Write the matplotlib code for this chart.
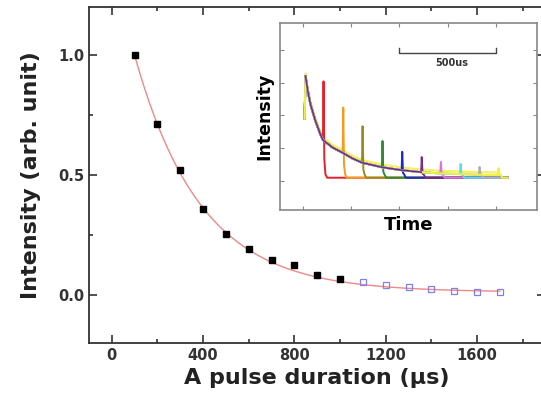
import numpy as np
import matplotlib
matplotlib.use("Agg")
import matplotlib.pyplot as plt

# main data: pulse duration (us) vs normalised intensity
dur_meas = [100, 200, 300, 400, 500, 600, 700, 800, 900, 1000]
int_meas = [1.0, 0.713, 0.519, 0.360, 0.253, 0.191, 0.144, 0.125, 0.083, 0.066]
dur_ext = [1100, 1200, 1300, 1400, 1500, 1600, 1700]
int_ext = [0.056, 0.043, 0.032, 0.024, 0.018, 0.014, 0.011]

# exponential fit parameters
fit_y0, fit_A, fit_tau, fit_x0 = 0.012, 0.988, 290.0, 100.0

# inset: afterglow decay shared by all traces (time in us, arb. intensity)
decay_t = [15, 25, 40, 65, 90, 105, 155, 207, 257, 307, 410, 512, 613, 712, 814, 912, 1010]
decay_y = [3.2, 2.8, 2.35, 1.85, 1.45, 1.25, 1.02, 0.86, 0.69, 0.56, 0.42, 0.33, 0.27, 0.23, 0.21, 0.19, 0.18]
# index into decay_t where the A pulse hits, and the spike height
pulse_idx = [5, 7, 9, 10, 11, 12, 13, 14, 15, 16]
pulse_peak = [3.04, 2.24, 1.67, 1.22, 0.89, 0.73, 0.58, 0.52, 0.43, 0.39]
trace_colors = ['#e8202a', '#f39c1e', '#9a8a20', '#2e8b2e', '#1a2ad0',
                '#7a2a8a', '#e070e0', '#50e0f0', '#b0b0b0', '#f0f040']
start_t, start_y = 10, 1.9
base_y = 0.1
end_t = 1060

fig = plt.figure(figsize=(5.41, 4.07), dpi=100)
ax = fig.add_axes([0.1643, 0.1572, 0.844, 0.8256])

xs = np.linspace(100, 1700, 300)
ax.plot(xs, fit_y0 + fit_A * np.exp(-(xs - fit_x0) / fit_tau), color='#f08888', lw=1.0, zorder=1)
ax.plot(dur_meas, int_meas, 's', color='black', ms=5.0, zorder=3)
ax.plot(dur_ext, int_ext, 's', mfc='none', mec='#8080e8', mew=0.9, ms=5.0, zorder=3)

ax.set_xlim(-100, 1900)
ax.set_ylim(-0.2, 1.2)
ax.set_xticks([0, 400, 800, 1200, 1600])
ax.set_xticks(range(200, 1900, 400), minor=True)
ax.set_yticks([0.0, 0.5, 1.0])
ax.set_yticks([0.25, 0.75], minor=True)
ax.set_yticklabels(['0.0', '0.5', '1.0'])
ax.tick_params(which='both', direction='in', top=True, right=True, colors='#333333',
               labelcolor='#333333', labelsize=10.5, width=1.2)
ax.tick_params(which='major', length=6)
ax.tick_params(which='minor', length=3)
for lbl in ax.get_xticklabels() + ax.get_yticklabels():
    lbl.set_fontweight('bold')
for sp in ax.spines.values():
    sp.set_linewidth(1.3)
    sp.set_color('#333333')
ax.set_xlabel('A pulse duration (\u03bcs)', fontsize=16, fontweight='bold', color='#222222', labelpad=4)
ax.set_ylabel('Intensity (arb. unit)', fontsize=16, fontweight='bold', color='#222222', labelpad=12)

# inset
ins = fig.add_axes([0.5176, 0.484, 0.475, 0.4595])
ins.set_xlim(-117, 1212)
ins.set_ylim(-0.885, 4.82)
ins.set_xticks([0, 250, 500, 750, 1000])
ins.set_yticks([0, 1, 2, 3, 4])
ins.tick_params(direction='in', top=True, right=True, length=3, width=0.8,
                colors='#888888', labelbottom=False, labelleft=False)
for sp in ins.spines.values():
    sp.set_linewidth(1.2)
    sp.set_color('#888888')

# each trace: decay until its A pulse, spike, then quench to baseline
for k, (i, pk, c) in enumerate(zip(pulse_idx, pulse_peak, trace_colors)):
    tp = decay_t[i]
    t = [start_t] + decay_t[:i + 1] + [tp + 3, tp + 7, tp + 13, tp + 22, end_t]
    y = [start_y] + decay_y[:i + 1] + [pk, 0.45 * decay_y[i] + 0.1, 0.2, base_y, base_y]
    ins.plot(t, y, color=c, lw=1.4, zorder=2 + k)
# long decay of the last traces on top near the start
ins.plot([start_t] + decay_t, [start_y + 0.2] + [v + 0.08 for v in decay_y], color='#f4f060', lw=1.6, zorder=1)
ins.plot(decay_t[:13], decay_y[:13], color='#6a2a9a', lw=1.2, zorder=20)

# scale bar 500 us
ins.plot([500, 500, 1000, 1000], [4.05, 3.9, 3.9, 4.05], color='#444444', lw=1.0)
ins.text(772, 3.6, '500us', ha='center', va='center', fontsize=7, fontweight='bold', color='#333333')
ins.set_xlabel('Time', fontsize=13, fontweight='bold', labelpad=4)
ins.set_ylabel('Intensity', fontsize=12.5, fontweight='bold', labelpad=5)

fig.savefig('out.png', dpi=100)
